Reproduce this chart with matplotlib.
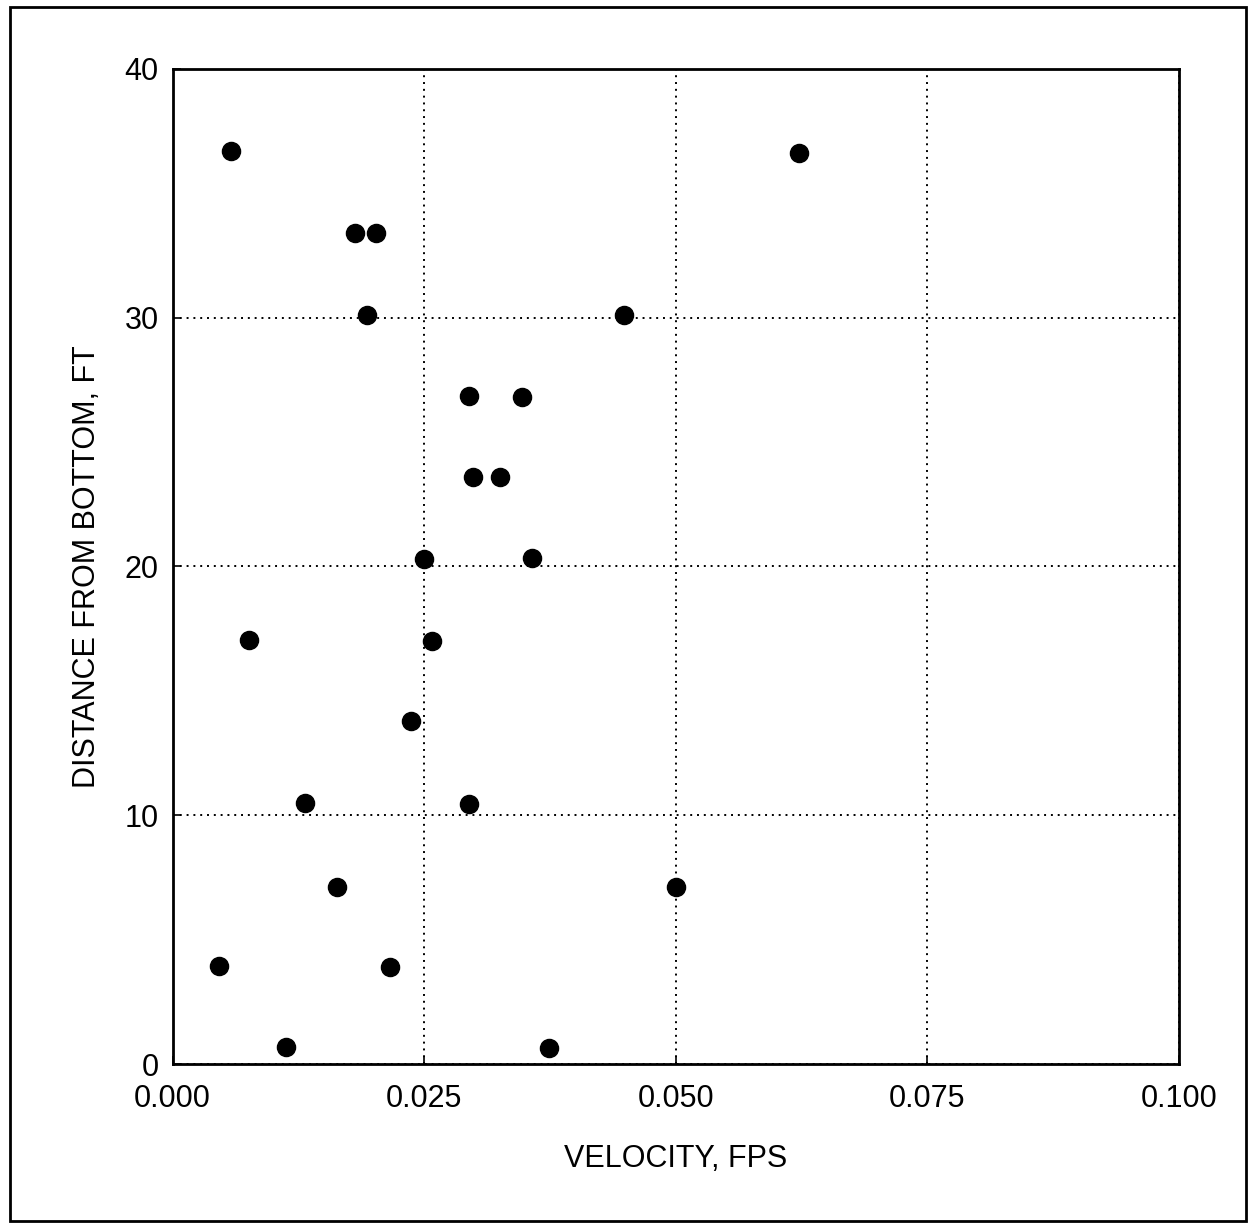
import matplotlib
matplotlib.use("Agg")
import matplotlib.pyplot as plt
from matplotlib.patches import Rectangle

velocity = [0.0058, 0.0623, 0.0181, 0.0202, 0.0193, 0.0449, 0.0295, 0.0347,
            0.0299, 0.0325, 0.0250, 0.0357, 0.0076, 0.0258, 0.0237, 0.0132,
            0.0295, 0.0163, 0.0500, 0.0046, 0.0216, 0.0113, 0.0374]
distance = [36.7, 36.6, 33.4, 33.4, 30.1, 30.1, 26.85, 26.8,
            23.6, 23.6, 20.3, 20.35, 17.05, 17.0, 13.8, 10.5,
            10.45, 7.13, 7.1, 3.93, 3.9, 0.68, 0.65]

x_ticks = [0.0, 0.025, 0.05, 0.075, 0.1]
x_labels = ["0.000", "0.025", "0.050", "0.075", "0.100"]
y_ticks = [0, 10, 20, 30, 40]
y_labels = ["0", "10", "20", "30", "40"]

plt.rcParams['font.family'] = ['Liberation Sans', 'DejaVu Sans']

fig = plt.figure(figsize=(12.5, 12.26), dpi=100)
fig.patches.append(Rectangle((0.008, 0.004), 0.989, 0.99, transform=fig.transFigure,
                             fill=False, edgecolor='black', linewidth=2))
ax = fig.add_axes([0.138, 0.132, 0.805, 0.812])
ax.scatter(velocity, distance, s=170, color='black', zorder=3, clip_on=False)
ax.set_xlim(0, 0.1)
ax.set_ylim(0, 40)
ax.set_xticks(x_ticks)
ax.set_xticklabels(x_labels)
ax.set_yticks(y_ticks)
ax.set_yticklabels(y_labels)
ax.tick_params(direction='in', length=6, width=1.2, labelsize=22)
ax.tick_params(axis='x', pad=14)
ax.tick_params(axis='y', pad=10)
ax.grid(True, color='black', linestyle=(0, (1, 2.5)), linewidth=1.4)
for s in ax.spines.values():
    s.set_linewidth(2)
ax.set_xlabel("VELOCITY, FPS", fontsize=22, labelpad=22)
ax.set_ylabel("DISTANCE FROM BOTTOM, FT", fontsize=22, labelpad=16)
fig.savefig("out.png", dpi=100)
